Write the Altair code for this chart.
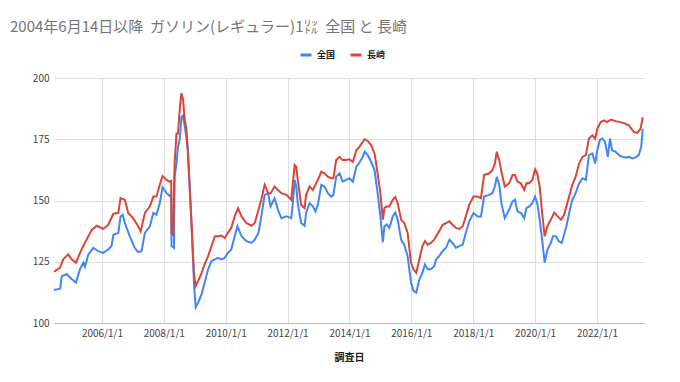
import altair as alt
import pandas as pd

# Values (decimal year, price in yen/litre)
zenkoku_t = [
    2004.45, 2004.65, 2004.70, 2004.86, 2005.02, 2005.16, 2005.29, 2005.40, 2005.45, 2005.56,
    2005.72, 2005.88, 2006.04, 2006.20, 2006.31, 2006.37, 2006.53, 2006.60, 2006.67, 2006.74,
    2006.90, 2007.06, 2007.17, 2007.28, 2007.39, 2007.55, 2007.66, 2007.76, 2007.87, 2007.96,
    2008.09, 2008.19, 2008.24, 2008.25, 2008.33, 2008.35, 2008.41, 2008.46, 2008.52, 2008.57,
    2008.62, 2008.68, 2008.73, 2008.78, 2008.89, 2008.98, 2009.03, 2009.11, 2009.22, 2009.32,
    2009.43, 2009.54, 2009.65, 2009.75, 2009.86, 2009.97, 2010.07, 2010.18, 2010.29, 2010.38,
    2010.51, 2010.67, 2010.83, 2010.94, 2011.06, 2011.15, 2011.26, 2011.37, 2011.45, 2011.58,
    2011.69, 2011.80, 2011.96, 2012.12, 2012.17, 2012.23, 2012.28, 2012.33, 2012.44, 2012.55,
    2012.60, 2012.71, 2012.82, 2012.90, 2012.98, 2013.09, 2013.19, 2013.30, 2013.41, 2013.48,
    2013.57, 2013.68, 2013.78, 2013.89, 2014.00, 2014.11, 2014.22, 2014.32, 2014.43, 2014.49,
    2014.59, 2014.70, 2014.81, 2014.91, 2015.00, 2015.08, 2015.13, 2015.20, 2015.29, 2015.40,
    2015.48, 2015.56, 2015.67, 2015.77, 2015.88, 2015.99, 2016.07, 2016.16, 2016.26, 2016.36,
    2016.44, 2016.53, 2016.63, 2016.74, 2016.80, 2016.90, 2017.01, 2017.12, 2017.23, 2017.33,
    2017.44, 2017.55, 2017.66, 2017.76, 2017.87, 2018.01, 2018.14, 2018.25, 2018.35, 2018.52,
    2018.62, 2018.70, 2018.76, 2018.84, 2018.91, 2019.02, 2019.16, 2019.27, 2019.35, 2019.43,
    2019.54, 2019.65, 2019.72, 2019.81, 2019.91, 2020.00, 2020.07, 2020.15, 2020.24, 2020.31,
    2020.40, 2020.51, 2020.58, 2020.67, 2020.77, 2020.86, 2020.94, 2021.01, 2021.10, 2021.20,
    2021.31, 2021.42, 2021.53, 2021.64, 2021.74, 2021.85, 2021.94, 2022.01, 2022.09, 2022.17,
    2022.26, 2022.35, 2022.42, 2022.49, 2022.60, 2022.71, 2022.82, 2022.92, 2023.03, 2023.14,
    2023.25, 2023.35, 2023.43, 2023.48,
]
zenkoku_v = [
    113.5, 114.0, 119.0, 120.0, 118.0, 116.5, 122.0, 124.6, 123.0, 128.0,
    130.7, 129.3, 128.6, 130.0, 131.4, 136.0, 136.8, 143.5, 144.2, 140.8,
    135.4, 130.7, 128.9, 129.3, 136.8, 139.5, 144.9, 144.2, 148.9, 155.4,
    153.0, 151.9, 152.5, 131.4, 130.7, 159.7, 165.0, 171.9, 175.3, 184.0,
    184.7, 180.0, 176.0, 170.5, 142.2, 115.1, 106.4, 108.4, 111.8, 116.5,
    121.9, 125.3, 126.0, 126.6, 126.0, 126.6, 128.6, 130.0, 135.4, 139.5,
    135.4, 133.4, 132.7, 134.0, 136.8, 143.5, 152.3, 153.0, 147.6, 150.9,
    146.2, 142.8, 143.5, 142.8, 148.9, 158.4, 155.7, 148.9, 140.8, 139.7,
    144.9, 148.9, 147.6, 145.6, 148.2, 156.4, 155.7, 153.0, 151.6, 152.3,
    159.7, 161.1, 157.7, 158.4, 159.1, 157.7, 163.8, 165.4, 167.8, 169.9,
    168.5, 165.8, 162.4, 153.0, 143.5, 133.0, 139.5, 140.2, 138.8, 143.5,
    145.1, 142.2, 134.0, 132.0, 127.3, 116.5, 113.1, 112.4, 117.8, 120.5,
    123.9, 121.9, 121.9, 123.2, 125.9, 127.3, 129.3, 130.7, 134.0, 132.7,
    130.7, 131.4, 132.0, 136.8, 141.5, 144.9, 143.5, 143.5, 151.6, 152.3,
    153.0, 155.7, 159.7, 156.4, 148.9, 142.8, 146.2, 149.6, 150.3, 145.6,
    144.9, 142.8, 146.9, 147.6, 148.9, 151.6, 148.9, 142.2, 132.7, 124.6,
    130.0, 132.7, 135.4, 135.4, 133.4, 132.7, 136.1, 139.5, 144.9, 150.3,
    153.0, 157.0, 159.1, 158.4, 168.5, 169.2, 165.1, 170.5, 174.6, 175.3,
    173.9, 167.8, 175.3, 170.5, 169.9, 168.5, 167.8, 167.6, 167.8, 167.2,
    167.6, 168.5, 171.9, 179.3,
]

nagasaki_t = [
    2004.45, 2004.48, 2004.65, 2004.75, 2004.91, 2005.02, 2005.16, 2005.29, 2005.40, 2005.56,
    2005.67, 2005.83, 2006.04, 2006.20, 2006.37, 2006.53, 2006.60, 2006.74, 2006.85, 2007.01,
    2007.17, 2007.25, 2007.39, 2007.55, 2007.66, 2007.76, 2007.87, 2007.96, 2008.09, 2008.19,
    2008.24, 2008.25, 2008.30, 2008.35, 2008.41, 2008.46, 2008.52, 2008.57, 2008.62, 2008.68,
    2008.73, 2008.78, 2008.89, 2008.98, 2009.03, 2009.11, 2009.22, 2009.32, 2009.43, 2009.54,
    2009.65, 2009.75, 2009.86, 2009.97, 2010.07, 2010.18, 2010.29, 2010.40, 2010.51, 2010.67,
    2010.83, 2010.94, 2011.06, 2011.15, 2011.26, 2011.31, 2011.37, 2011.45, 2011.58, 2011.69,
    2011.80, 2011.96, 2012.12, 2012.17, 2012.23, 2012.28, 2012.33, 2012.44, 2012.55, 2012.60,
    2012.71, 2012.82, 2012.90, 2012.98, 2013.09, 2013.19, 2013.30, 2013.41, 2013.48, 2013.57,
    2013.68, 2013.78, 2013.89, 2014.00, 2014.11, 2014.22, 2014.32, 2014.43, 2014.49, 2014.59,
    2014.70, 2014.81, 2014.91, 2015.00, 2015.08, 2015.13, 2015.20, 2015.29, 2015.40, 2015.48,
    2015.56, 2015.67, 2015.77, 2015.88, 2015.99, 2016.07, 2016.16, 2016.26, 2016.36, 2016.44,
    2016.53, 2016.63, 2016.74, 2016.80, 2016.90, 2017.01, 2017.12, 2017.23, 2017.33, 2017.44,
    2017.55, 2017.66, 2017.76, 2017.87, 2018.01, 2018.14, 2018.25, 2018.35, 2018.52, 2018.62,
    2018.70, 2018.76, 2018.84, 2018.91, 2019.02, 2019.16, 2019.27, 2019.35, 2019.43, 2019.54,
    2019.65, 2019.72, 2019.81, 2019.91, 2020.00, 2020.07, 2020.15, 2020.24, 2020.31, 2020.40,
    2020.51, 2020.62, 2020.73, 2020.84, 2020.94, 2021.01, 2021.10, 2021.20, 2021.31, 2021.42,
    2021.53, 2021.64, 2021.74, 2021.85, 2021.94, 2022.01, 2022.12, 2022.23, 2022.33, 2022.45,
    2022.60, 2022.76, 2022.87, 2023.03, 2023.19, 2023.30, 2023.41, 2023.48,
]
nagasaki_v = [
    121.0, 121.2, 122.6, 126.0, 128.0, 126.0, 124.6, 128.6, 131.6, 135.4,
    138.0, 139.7, 138.4, 140.0, 144.6, 144.9, 151.0, 150.3, 144.9, 142.8,
    139.5, 137.4, 144.9, 147.6, 151.6, 151.6, 156.4, 160.0, 158.4, 157.7,
    158.0, 136.8, 136.0, 165.0, 177.3, 177.3, 188.1, 193.8, 191.5, 182.7,
    179.3, 169.2, 142.2, 119.2, 115.1, 117.2, 120.5, 124.0, 127.3, 131.4,
    135.4, 135.4, 135.7, 134.7, 136.8, 138.8, 143.5, 146.9, 143.5, 140.8,
    139.7, 140.8, 146.2, 150.3, 156.4, 155.0, 153.0, 153.0, 155.7, 154.3,
    153.0, 152.3, 150.3, 157.0, 164.5, 163.8, 158.4, 148.2, 146.9, 152.3,
    155.7, 154.3, 156.4, 158.4, 161.8, 161.1, 159.7, 159.1, 159.1, 166.5,
    167.8, 166.5, 166.5, 166.8, 165.8, 170.5, 171.9, 173.9, 175.0, 174.3,
    172.6, 169.2, 161.1, 153.0, 142.2, 146.9, 147.6, 147.6, 150.3, 151.4,
    148.9, 142.2, 140.8, 136.8, 124.6, 121.9, 120.5, 126.0, 131.4, 133.4,
    132.0, 132.7, 134.0, 135.4, 137.4, 140.1, 140.8, 141.5, 140.1, 138.8,
    138.4, 139.5, 143.5, 148.2, 151.6, 151.6, 150.9, 160.4, 161.1, 162.4,
    165.1, 169.9, 166.5, 161.8, 155.7, 157.0, 160.4, 160.4, 157.7, 157.0,
    154.3, 157.0, 157.0, 158.4, 162.7, 161.1, 155.7, 143.5, 135.4, 139.5,
    142.2, 145.1, 143.5, 142.2, 144.2, 147.6, 151.6, 156.4, 159.7, 165.1,
    167.8, 168.5, 175.3, 176.6, 175.3, 179.3, 182.0, 182.7, 182.0, 183.0,
    182.4, 182.0, 181.6, 180.7, 178.0, 177.6, 179.3, 184.0,
]

series_names = ["全国", "長崎"]
series_colors = ["#4285F4", "#DB4437"]
y_ticks = [100, 125, 150, 175, 200]
title_text = "2004年6月14日以降\u00a0\u00a0ガソリン(レギュラー)1㍑\u00a0\u00a0全国 と 長崎"
x_title = "調査日"


def to_date(t):
    y = int(t)
    return pd.Timestamp(year=y, month=1, day=1) + pd.Timedelta(days=(t - y) * 365.25)


rows = []
for t, v in zip(zenkoku_t, zenkoku_v):
    rows.append({"date": to_date(t), "price": v, "series": series_names[0]})
for t, v in zip(nagasaki_t, nagasaki_v):
    rows.append({"date": to_date(t), "price": v, "series": series_names[1]})
df = pd.DataFrame(rows)

x_domain = [pd.Timestamp("2004-06-14").isoformat(), pd.Timestamp("2023-07-10").isoformat()]
tick_dates = [pd.Timestamp(f"{y}-01-01").isoformat() for y in range(2006, 2024, 2)]

font = "Noto Sans CJK JP"

chart = alt.Chart(df).mark_line(strokeWidth=2).encode(
    x=alt.X(
        "date:T",
        title=x_title,
        scale=alt.Scale(domain=x_domain, nice=False),
        axis=alt.Axis(
            values=tick_dates,
            format="%Y/%-m/%-d",
            labelFontSize=10,
            labelColor="#444444",
            labelFont=font,
            labelPadding=5,
            tickSize=0,
            grid=True,
            gridColor="#dddddd",
            domain=True,
            domainColor="#bdbdbd",
            titleFont=font,
            titleFontSize=10,
            titleFontWeight="bold",
            titleColor="#222222",
            titlePadding=14,
        ),
    ),
    y=alt.Y(
        "price:Q",
        title=None,
        scale=alt.Scale(domain=[100, 200], nice=False, zero=False),
        axis=alt.Axis(
            values=y_ticks,
            labelFontSize=10,
            labelColor="#444444",
            labelFont=font,
            labelPadding=5,
            tickSize=0,
            grid=True,
            gridColor="#dddddd",
            domain=False,
        ),
    ),
    color=alt.Color(
        "series:N",
        scale=alt.Scale(domain=series_names, range=series_colors),
        legend=alt.Legend(
            title=None,
            orient="none",
            direction="horizontal",
            legendX=245,
            legendY=-30,
            symbolType="stroke",
            symbolStrokeWidth=3,
            symbolSize=120,
            labelFont=font,
            labelFontSize=9,
            labelFontWeight="bold",
            labelColor="#222222",
            columnPadding=8,
        ),
    ),
    detail="series:N",
).properties(
    width=590,
    height=245,
    title=alt.TitleParams(
        text=title_text,
        anchor="start",
        frame="group",
        dx=-44,
        offset=13,
        font=font,
        fontSize=15,
        fontWeight="normal",
        color="#757575",
    ),
    autosize=alt.AutoSizeParams(type="none"),
    padding={"left": 46, "top": 70, "right": 20, "bottom": 45},
).configure_view(stroke=None)

chart.save("out.html", embed_options={"renderer": "svg", "actions": False})
